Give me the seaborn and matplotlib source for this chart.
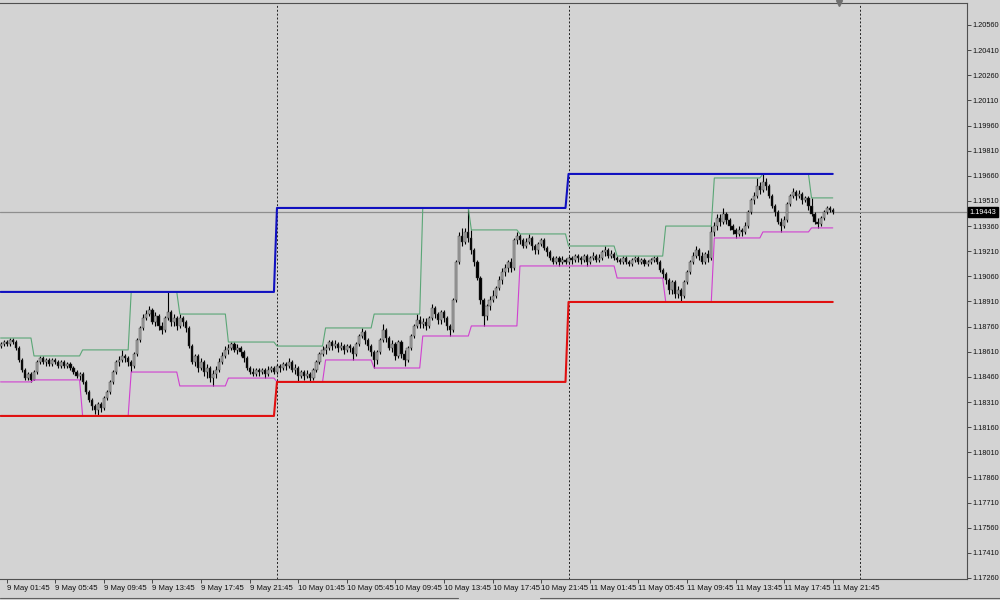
import numpy as np
import pandas as pd
import matplotlib.pyplot as plt
import matplotlib.transforms as mtransforms
from matplotlib.lines import Line2D
import seaborn as sns

# EURUSD M15, 9 May 01:15 -> 11 May 21:45 (one row = one H4 block)
opens = [
    1.18644, 1.18656, 1.18668, 1.18656, 1.18680, 1.18668, 1.18632, 1.18561, 1.18501, 1.18453, 1.18477,
    1.18442, 1.18489, 1.18549, 1.18573, 1.18549, 1.18561, 1.18537, 1.18561, 1.18549, 1.18525, 1.18549, 1.18525, 1.18537, 1.18513, 1.18489, 1.18465,
    1.18477, 1.18430, 1.18370, 1.18322, 1.18286, 1.18263, 1.18298, 1.18274, 1.18334, 1.18370, 1.18430, 1.18489, 1.18549, 1.18561, 1.18585, 1.18573,
    1.18549, 1.18525, 1.18597, 1.18680, 1.18752, 1.18811, 1.18835, 1.18859, 1.18788, 1.18823, 1.18764, 1.18740, 1.18811, 1.18847, 1.18788, 1.18811,
    1.18764, 1.18811, 1.18788, 1.18752, 1.18644, 1.18549, 1.18585, 1.18513, 1.18549, 1.18489, 1.18513, 1.18453, 1.18477, 1.18501, 1.18549, 1.18585,
    1.18621, 1.18632, 1.18656, 1.18621, 1.18632, 1.18609, 1.18573, 1.18513, 1.18489, 1.18477, 1.18501, 1.18489, 1.18501, 1.18477, 1.18501, 1.18513,
    1.18489, 1.18525, 1.18513, 1.18537, 1.18525, 1.18549, 1.18501, 1.18513, 1.18465, 1.18489, 1.18465, 1.18477, 1.18453, 1.18501, 1.18549, 1.18597,
    1.18621, 1.18632, 1.18668, 1.18644, 1.18656, 1.18632, 1.18644, 1.18621, 1.18644, 1.18632, 1.18597, 1.18656, 1.18704, 1.18728, 1.18680, 1.18644,
    1.18609, 1.18561, 1.18609, 1.18680, 1.18740, 1.18692, 1.18632, 1.18656, 1.18585, 1.18668, 1.18597, 1.18561, 1.18632, 1.18704, 1.18764, 1.18799,
    1.18776, 1.18788, 1.18764, 1.18811, 1.18871, 1.18835, 1.18799, 1.18847, 1.18811, 1.18764, 1.18740, 1.18919, 1.19146, 1.19301, 1.19265, 1.19325,
    1.19289, 1.19217, 1.19146, 1.19050, 1.18919, 1.18823, 1.18883, 1.18919, 1.18943, 1.18990, 1.19038, 1.19086, 1.19110, 1.19146, 1.19110, 1.19277,
    1.19301, 1.19277, 1.19241, 1.19265, 1.19289, 1.19241, 1.19217, 1.19253, 1.19277, 1.19229, 1.19205, 1.19169, 1.19146, 1.19169, 1.19146, 1.19158,
    1.19146, 1.19169, 1.19158, 1.19181, 1.19169, 1.19158, 1.19181, 1.19146, 1.19169, 1.19181, 1.19158, 1.19169, 1.19205, 1.19217, 1.19181, 1.19193,
    1.19169, 1.19158, 1.19146, 1.19169, 1.19146, 1.19134, 1.19158, 1.19169, 1.19146, 1.19158, 1.19134, 1.19146, 1.19158, 1.19169, 1.19146, 1.19098,
    1.19074, 1.19038, 1.18979, 1.19026, 1.18955, 1.18979, 1.18943, 1.19026, 1.19086, 1.19146, 1.19181, 1.19217, 1.19181, 1.19146, 1.19193, 1.19169,
    1.19325, 1.19360, 1.19408, 1.19384, 1.19432, 1.19396, 1.19360, 1.19337, 1.19313, 1.19337, 1.19325, 1.19360, 1.19444, 1.19516, 1.19540, 1.19599,
    1.19575, 1.19623, 1.19599, 1.19540, 1.19480, 1.19444, 1.19384, 1.19360, 1.19396, 1.19492, 1.19540, 1.19563, 1.19540, 1.19552, 1.19516, 1.19528,
    1.19480, 1.19432, 1.19384, 1.19372, 1.19408, 1.19444, 1.19468, 1.19456,
]
highs = [
    1.18668, 1.18680, 1.18680, 1.18692, 1.18692, 1.18680, 1.18644, 1.18573, 1.18513, 1.18489, 1.18489,
    1.18501, 1.18561, 1.18585, 1.18585, 1.18573, 1.18573, 1.18573, 1.18573, 1.18561, 1.18561, 1.18561, 1.18549, 1.18549, 1.18525, 1.18501, 1.18489,
    1.18489, 1.18442, 1.18382, 1.18334, 1.18298, 1.18310, 1.18310, 1.18346, 1.18382, 1.18442, 1.18501, 1.18561, 1.18585, 1.18621, 1.18597, 1.18585,
    1.18561, 1.18609, 1.18692, 1.18764, 1.18835, 1.18859, 1.18883, 1.18871, 1.18847, 1.18835, 1.18788, 1.18823, 1.18967, 1.18859, 1.18835, 1.18823,
    1.18835, 1.18823, 1.18799, 1.18764, 1.18656, 1.18597, 1.18597, 1.18573, 1.18561, 1.18537, 1.18525, 1.18501, 1.18525, 1.18573, 1.18609, 1.18644,
    1.18656, 1.18668, 1.18668, 1.18656, 1.18644, 1.18621, 1.18585, 1.18525, 1.18513, 1.18513, 1.18513, 1.18513, 1.18513, 1.18525, 1.18525, 1.18525,
    1.18537, 1.18537, 1.18549, 1.18549, 1.18573, 1.18561, 1.18537, 1.18525, 1.18501, 1.18501, 1.18501, 1.18489, 1.18513, 1.18561, 1.18609, 1.18644,
    1.18656, 1.18680, 1.18680, 1.18680, 1.18668, 1.18668, 1.18656, 1.18656, 1.18656, 1.18644, 1.18668, 1.18716, 1.18752, 1.18740, 1.18692, 1.18656,
    1.18621, 1.18621, 1.18692, 1.18776, 1.18752, 1.18704, 1.18680, 1.18668, 1.18680, 1.18680, 1.18621, 1.18644, 1.18716, 1.18776, 1.18835, 1.18823,
    1.18811, 1.18811, 1.18823, 1.18895, 1.18883, 1.18847, 1.18859, 1.18859, 1.18823, 1.18776, 1.18931, 1.19158, 1.19325, 1.19349, 1.19349, 1.19468,
    1.19337, 1.19229, 1.19158, 1.19062, 1.18931, 1.18895, 1.18943, 1.18979, 1.19002, 1.19062, 1.19110, 1.19134, 1.19158, 1.19169, 1.19289, 1.19325,
    1.19313, 1.19289, 1.19289, 1.19313, 1.19301, 1.19253, 1.19265, 1.19289, 1.19289, 1.19241, 1.19217, 1.19181, 1.19181, 1.19181, 1.19181, 1.19169,
    1.19181, 1.19181, 1.19193, 1.19193, 1.19181, 1.19193, 1.19193, 1.19181, 1.19205, 1.19193, 1.19193, 1.19217, 1.19241, 1.19229, 1.19217, 1.19205,
    1.19181, 1.19169, 1.19181, 1.19181, 1.19158, 1.19169, 1.19181, 1.19181, 1.19169, 1.19169, 1.19158, 1.19169, 1.19181, 1.19181, 1.19158, 1.19110,
    1.19086, 1.19050, 1.19038, 1.19038, 1.19002, 1.18990, 1.19038, 1.19098, 1.19158, 1.19205, 1.19241, 1.19229, 1.19205, 1.19205, 1.19217, 1.19360,
    1.19384, 1.19432, 1.19432, 1.19468, 1.19444, 1.19408, 1.19372, 1.19349, 1.19360, 1.19349, 1.19384, 1.19456, 1.19528, 1.19563, 1.19647, 1.19623,
    1.19671, 1.19647, 1.19611, 1.19552, 1.19492, 1.19456, 1.19408, 1.19420, 1.19504, 1.19552, 1.19587, 1.19575, 1.19575, 1.19563, 1.19540, 1.19540,
    1.19528, 1.19444, 1.19408, 1.19420, 1.19456, 1.19480, 1.19480, 1.19468,
]
lows = [
    1.18632, 1.18644, 1.18644, 1.18644, 1.18656, 1.18621, 1.18549, 1.18489, 1.18442, 1.18442, 1.18430,
    1.18442, 1.18477, 1.18537, 1.18537, 1.18525, 1.18525, 1.18525, 1.18537, 1.18513, 1.18513, 1.18513, 1.18513, 1.18501, 1.18477, 1.18453, 1.18442,
    1.18418, 1.18358, 1.18310, 1.18263, 1.18239, 1.18227, 1.18251, 1.18263, 1.18322, 1.18358, 1.18418, 1.18477, 1.18525, 1.18549, 1.18549, 1.18525,
    1.18489, 1.18513, 1.18585, 1.18668, 1.18740, 1.18799, 1.18823, 1.18776, 1.18764, 1.18740, 1.18716, 1.18728, 1.18799, 1.18764, 1.18764, 1.18740,
    1.18752, 1.18764, 1.18728, 1.18632, 1.18537, 1.18525, 1.18489, 1.18501, 1.18465, 1.18453, 1.18430, 1.18406, 1.18453, 1.18489, 1.18537, 1.18573,
    1.18597, 1.18621, 1.18609, 1.18597, 1.18585, 1.18549, 1.18501, 1.18477, 1.18465, 1.18465, 1.18465, 1.18477, 1.18453, 1.18465, 1.18489, 1.18477,
    1.18477, 1.18489, 1.18501, 1.18501, 1.18513, 1.18489, 1.18477, 1.18430, 1.18453, 1.18442, 1.18453, 1.18430, 1.18442, 1.18489, 1.18537, 1.18585,
    1.18597, 1.18621, 1.18621, 1.18632, 1.18609, 1.18621, 1.18597, 1.18609, 1.18609, 1.18561, 1.18585, 1.18644, 1.18692, 1.18656, 1.18621, 1.18585,
    1.18513, 1.18537, 1.18597, 1.18668, 1.18668, 1.18621, 1.18609, 1.18561, 1.18573, 1.18573, 1.18525, 1.18549, 1.18621, 1.18692, 1.18752, 1.18752,
    1.18752, 1.18740, 1.18752, 1.18799, 1.18811, 1.18776, 1.18776, 1.18788, 1.18740, 1.18704, 1.18728, 1.18907, 1.19134, 1.19241, 1.19253, 1.19265,
    1.19193, 1.19122, 1.19038, 1.18895, 1.18764, 1.18799, 1.18859, 1.18907, 1.18931, 1.18979, 1.19014, 1.19062, 1.19086, 1.19086, 1.19098, 1.19253,
    1.19253, 1.19229, 1.19229, 1.19253, 1.19217, 1.19193, 1.19193, 1.19241, 1.19217, 1.19181, 1.19158, 1.19134, 1.19134, 1.19122, 1.19134, 1.19134,
    1.19134, 1.19134, 1.19146, 1.19146, 1.19134, 1.19146, 1.19122, 1.19134, 1.19158, 1.19146, 1.19146, 1.19158, 1.19181, 1.19169, 1.19169, 1.19158,
    1.19146, 1.19134, 1.19134, 1.19134, 1.19122, 1.19122, 1.19146, 1.19134, 1.19134, 1.19122, 1.19122, 1.19134, 1.19146, 1.19134, 1.19086, 1.19050,
    1.19014, 1.18955, 1.18955, 1.18931, 1.18931, 1.18907, 1.18931, 1.19014, 1.19074, 1.19134, 1.19169, 1.19158, 1.19134, 1.19134, 1.19146, 1.19158,
    1.19301, 1.19337, 1.19360, 1.19372, 1.19372, 1.19337, 1.19313, 1.19289, 1.19301, 1.19301, 1.19313, 1.19349, 1.19432, 1.19492, 1.19528, 1.19552,
    1.19563, 1.19575, 1.19528, 1.19468, 1.19420, 1.19372, 1.19325, 1.19349, 1.19384, 1.19480, 1.19528, 1.19516, 1.19528, 1.19492, 1.19504, 1.19456,
    1.19420, 1.19372, 1.19349, 1.19360, 1.19396, 1.19432, 1.19444, 1.19432,
]
closes = [
    1.18656, 1.18668, 1.18656, 1.18680, 1.18668, 1.18632, 1.18561, 1.18501, 1.18453, 1.18477, 1.18442,
    1.18489, 1.18549, 1.18573, 1.18549, 1.18561, 1.18537, 1.18561, 1.18549, 1.18525, 1.18549, 1.18525, 1.18537, 1.18513, 1.18489, 1.18465, 1.18477,
    1.18430, 1.18370, 1.18322, 1.18286, 1.18263, 1.18298, 1.18274, 1.18334, 1.18370, 1.18430, 1.18489, 1.18549, 1.18561, 1.18585, 1.18573, 1.18549,
    1.18525, 1.18597, 1.18680, 1.18752, 1.18811, 1.18835, 1.18859, 1.18788, 1.18823, 1.18764, 1.18740, 1.18811, 1.18847, 1.18788, 1.18811, 1.18764,
    1.18811, 1.18788, 1.18752, 1.18644, 1.18549, 1.18585, 1.18513, 1.18549, 1.18489, 1.18513, 1.18453, 1.18477, 1.18501, 1.18549, 1.18585, 1.18621,
    1.18632, 1.18656, 1.18621, 1.18632, 1.18609, 1.18573, 1.18513, 1.18489, 1.18477, 1.18501, 1.18489, 1.18501, 1.18477, 1.18501, 1.18513, 1.18489,
    1.18525, 1.18513, 1.18537, 1.18525, 1.18549, 1.18501, 1.18513, 1.18465, 1.18489, 1.18465, 1.18477, 1.18453, 1.18501, 1.18549, 1.18597, 1.18621,
    1.18632, 1.18668, 1.18644, 1.18656, 1.18632, 1.18644, 1.18621, 1.18644, 1.18632, 1.18597, 1.18656, 1.18704, 1.18728, 1.18680, 1.18644, 1.18609,
    1.18561, 1.18609, 1.18680, 1.18740, 1.18692, 1.18632, 1.18656, 1.18585, 1.18668, 1.18597, 1.18561, 1.18632, 1.18704, 1.18764, 1.18799, 1.18776,
    1.18788, 1.18764, 1.18811, 1.18871, 1.18835, 1.18799, 1.18847, 1.18811, 1.18764, 1.18740, 1.18919, 1.19146, 1.19301, 1.19265, 1.19325, 1.19289,
    1.19217, 1.19146, 1.19050, 1.18919, 1.18823, 1.18883, 1.18919, 1.18943, 1.18990, 1.19038, 1.19086, 1.19110, 1.19146, 1.19110, 1.19277, 1.19301,
    1.19277, 1.19241, 1.19265, 1.19289, 1.19241, 1.19217, 1.19253, 1.19277, 1.19229, 1.19205, 1.19169, 1.19146, 1.19169, 1.19146, 1.19158, 1.19146,
    1.19169, 1.19158, 1.19181, 1.19169, 1.19158, 1.19181, 1.19146, 1.19169, 1.19181, 1.19158, 1.19169, 1.19205, 1.19217, 1.19181, 1.19193, 1.19169,
    1.19158, 1.19146, 1.19169, 1.19146, 1.19134, 1.19158, 1.19169, 1.19146, 1.19158, 1.19134, 1.19146, 1.19158, 1.19169, 1.19146, 1.19098, 1.19074,
    1.19038, 1.18979, 1.19026, 1.18955, 1.18979, 1.18943, 1.19026, 1.19086, 1.19146, 1.19181, 1.19217, 1.19181, 1.19146, 1.19193, 1.19169, 1.19325,
    1.19360, 1.19408, 1.19384, 1.19432, 1.19396, 1.19360, 1.19337, 1.19313, 1.19337, 1.19325, 1.19360, 1.19444, 1.19516, 1.19540, 1.19599, 1.19575,
    1.19623, 1.19599, 1.19540, 1.19480, 1.19444, 1.19384, 1.19360, 1.19396, 1.19492, 1.19540, 1.19563, 1.19540, 1.19552, 1.19516, 1.19528, 1.19480,
    1.19432, 1.19384, 1.19372, 1.19408, 1.19444, 1.19468, 1.19456, 1.19443,
]
first_bar = '2011-05-09 01:15'
price_ticks = np.arange(1.17260, 1.20561, 0.0015)

bg = '#d3d3d3'
sns.set_theme(style='white', rc={'axes.facecolor': bg, 'figure.facecolor': bg})
plt.rcParams['font.family'] = ['Liberation Sans', 'DejaVu Sans']

df = pd.DataFrame({'open': opens, 'high': highs, 'low': lows, 'close': closes},
                  index=pd.date_range(first_bar, periods=len(closes), freq='15min'))
df['bar'] = np.arange(len(df))

# current H4 and daily range, like the indicator on the chart
h4 = df.index.floor('4h')
day = df.index.floor('D')
df['h4_high'] = df.groupby(h4)['high'].transform('max')
df['h4_low'] = df.groupby(h4)['low'].transform('min')
df['day_high'] = df.groupby(day)['high'].transform('max')
df['day_low'] = df.groupby(day)['low'].transform('min')

fig, ax = plt.subplots(figsize=(10, 6), dpi=100)
ax.set_position([0.0, 1 - 579 / 600, 0.967, 576 / 600])

# candles
bull = df['close'] >= df['open']
body_lo = df[['open', 'close']].min(axis=1)
body_h = (df['close'] - df['open']).abs().clip(lower=0.00002)
ax.vlines(df['bar'], df['low'], df['high'], color='black', linewidth=0.8, zorder=2)
ax.bar(df['bar'], body_h, bottom=body_lo, width=0.72,
       color=np.where(bull, '#a8a8a8', 'black'), edgecolor='#303030', linewidth=0.3, zorder=3)

# range lines
sns.lineplot(data=df, x='bar', y='h4_high', color='#5aa676', linewidth=0.8, estimator=None, ax=ax, zorder=4)
sns.lineplot(data=df, x='bar', y='h4_low', color='#d040d0', linewidth=0.8, estimator=None, ax=ax, zorder=4)
sns.lineplot(data=df, x='bar', y='day_high', color='#1010c0', linewidth=1.5, estimator=None, ax=ax, zorder=5)
sns.lineplot(data=df, x='bar', y='day_low', color='#e01010', linewidth=1.5, estimator=None, ax=ax, zorder=5)

# day separators
start = df.index[0]
days = pd.date_range(start.normalize() + pd.Timedelta('1D'), periods=3, freq='D')
for d in days:
    ax.axvline((d - start) / pd.Timedelta('15min'), color='#202020', linestyle=(0, (2, 2)), linewidth=0.7, zorder=1)

# last price line + label
last = closes[-1]
ax.axhline(last, color='#8e8e8e', linewidth=0.9, zorder=1)
ax.text(1.003, last, f'{last:.5f}', transform=mtransforms.blended_transform_factory(ax.transAxes, ax.transData),
        ha='left', va='center', color='white', fontsize=5.3,
        bbox=dict(boxstyle='square,pad=0.2', fc='black', ec='black'))

# chart shift marker
ax.plot(len(df) + 1, 1.20691, marker='v', color='#707070', markersize=4, clip_on=False, zorder=6)

ax.set_xlim(-0.2, 318.2)
ax.set_ylim(1.17254, 1.20691)
ax.set_xlabel('')
ax.set_ylabel('')

# axes
ax.yaxis.tick_right()
ax.set_yticks(price_ticks)
ax.set_yticklabels([f'{v:.5f}' for v in price_ticks])
tick_rows = df[(df.index.hour % 4 == 1) & (df.index.minute == 45)]
ax.set_xticks(tick_rows['bar'])
ax.set_xticklabels([f'{t.day} {t:%b %H:%M}' for t in tick_rows.index])
offset = mtransforms.ScaledTranslation(1.5 / 100, 0, fig.dpi_scale_trans)
for lbl in ax.get_xticklabels():
    lbl.set_ha('left')
    lbl.set_transform(lbl.get_transform() + offset)
ax.tick_params(axis='both', direction='out', length=3, width=0.6, color='#303030',
               labelcolor='#101010')
ax.tick_params(axis='x', labelsize=5.6, bottom=True, pad=1.5)
ax.tick_params(axis='y', labelsize=5.3, right=True, pad=1)
for side in ['top', 'right', 'bottom']:
    ax.spines[side].set_color('#505050')
    ax.spines[side].set_linewidth(0.8)
ax.spines['left'].set_visible(False)

fig.add_artist(Line2D([0, 0.458], [0.004, 0.004], color='#606060', linewidth=0.8))
fig.add_artist(Line2D([0.54, 1.0], [0.004, 0.004], color='#606060', linewidth=0.8))

plt.savefig('out.png', dpi=100, facecolor=bg)
